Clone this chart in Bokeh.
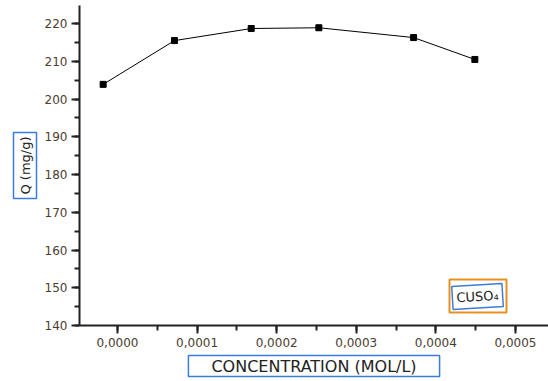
from bokeh.plotting import figure
from bokeh.models import (Label, BoxAnnotation, SingleIntervalTicker,
                          CustomJSTickFormatter, Range1d, Title)
from bokeh.embed import file_html
from bokeh.resources import INLINE

# Adsorption capacity vs. CuSO4 concentration
concentration = [-0.000018, 0.0000716, 0.000168, 0.000253, 0.000372, 0.000449]
capacity = [203.9, 215.5, 218.7, 218.9, 216.3, 210.5]

x_label = "CONCENTRATION (MOL/L)"
y_label = "Q (mg/g)"
series_label = "CUSO₄"

FONT = "DejaVu Sans"
TICK_COLOR = "#4a3d30"
BLUE = "#3b7ddd"

p = figure(width=548, height=381, output_backend="svg", toolbar_location=None,
           x_range=Range1d(-0.0000477, 0.0005415), y_range=Range1d(140, 224.8),
           min_border_left=79, min_border_right=0, min_border_top=5,
           min_border_bottom=56)
p.outline_line_color = None
p.grid.visible = False
p.background_fill_color = "white"
p.border_fill_color = "white"

p.line(concentration, capacity, line_color="black", line_width=1)
p.scatter(concentration, capacity, marker="square", size=6,
          fill_color="black", line_color="black")

p.xaxis.ticker = SingleIntervalTicker(interval=0.0001, num_minor_ticks=2)
p.xaxis.formatter = CustomJSTickFormatter(
    code="return tick.toFixed(4).replace('.', ',');")
p.yaxis.ticker = SingleIntervalTicker(interval=10, num_minor_ticks=2)

for ax in (p.xaxis[0], p.yaxis[0]):
    ax.axis_line_width = 2
    ax.axis_line_color = "#222222"
    ax.major_tick_line_width = 2
    ax.major_tick_line_color = "#222222"
    ax.minor_tick_line_width = 2
    ax.minor_tick_line_color = "#222222"
    ax.major_tick_in = 0
    ax.major_tick_out = 8
    ax.minor_tick_in = 0
    ax.minor_tick_out = 5
    ax.major_label_text_font = FONT
    ax.major_label_text_font_size = "12px"
    ax.major_label_text_color = TICK_COLOR
    ax.major_label_standoff = 4

# Axis titles drawn as boxed side titles
p.add_layout(Title(text=y_label, align="center", text_font=FONT,
                   text_font_size="13px", text_font_style="normal",
                   text_color="#222222", border_line_color=BLUE,
                   border_line_width=1.5, background_fill_color="white",
                   padding=4, standoff=10), "left")
p.add_layout(Title(text=x_label, align="center", text_font=FONT,
                   text_font_size="16px", text_font_style="normal",
                   text_color="#222222", border_line_color=BLUE,
                   border_line_width=1.5, background_fill_color="white",
                   padding=(23, 1), offset=4, standoff=8), "below")

# Series tag
p.add_layout(BoxAnnotation(left=370, right=427, bottom=13, top=46,
                           left_units="screen", right_units="screen",
                           bottom_units="screen", top_units="screen",
                           fill_alpha=0, line_color="#e8901e",
                           line_alpha=1.0, line_width=2))
p.add_layout(Label(x=398, y=29, x_units="screen", y_units="screen",
                   text=series_label, angle=0.06, text_align="center",
                   text_baseline="middle", text_font=FONT,
                   text_font_size="13px", text_color="#222222",
                   border_line_color=BLUE, border_line_width=1.5,
                   padding=4))

open("out.html", "w").write(file_html(p, INLINE))
